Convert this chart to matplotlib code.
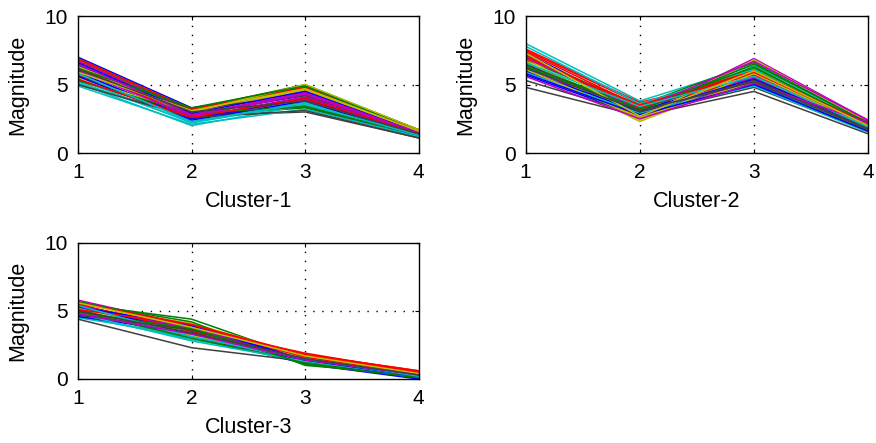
import matplotlib
matplotlib.use('Agg')
import matplotlib.pyplot as plt

plt.rcParams['font.family'] = ['Liberation Sans', 'DejaVu Sans']

features = [1, 2, 3, 4]
x_ticks = [1, 2, 3, 4]
y_ticks = [0, 5, 10]
cycle = ['#0000ff', '#008000', '#ff0000', '#00bfbf', '#bf00bf', '#bfbf00', '#404040']

cluster1 = [
    [6.0, 2.8, 4.2, 1.4], [5.0, 2.7, 3.3, 1.2], [6.8, 3.0, 4.6, 1.6], [5.1, 2.0, 3.5, 1.3],
    [6.3, 2.6, 4.0, 1.4], [6.6, 3.1, 4.9, 1.7], [5.3, 2.7, 3.0, 1.1], [7.0, 3.3, 4.4, 1.5],
    [6.5, 3.2, 5.0, 1.7], [5.7, 2.5, 3.9, 1.3], [5.4, 2.2, 3.6, 1.2], [5.8, 2.6, 4.1, 1.4],
    [6.1, 2.9, 4.7, 1.6], [5.6, 2.8, 3.4, 1.2], [5.9, 2.5, 4.0, 1.3], [6.9, 3.1, 4.8, 1.6],
    [6.2, 2.7, 4.3, 1.5], [5.2, 2.3, 3.7, 1.3], [6.7, 3.0, 4.5, 1.5], [5.5, 2.9, 4.6, 1.6],
    [6.4, 3.2, 4.2, 1.5], [5.6, 2.4, 3.8, 1.2], [5.3, 2.9, 3.4, 1.3], [6.9, 3.2, 4.8, 1.7],
    [4.9, 2.1, 3.2, 1.2], [6.0, 2.7, 4.3, 1.4], [6.3, 3.0, 5.0, 1.7], [5.0, 2.6, 3.1, 1.1],
    [6.6, 2.9, 4.5, 1.5], [6.2, 3.3, 4.9, 1.6], [5.4, 2.6, 4.0, 1.4], [5.8, 2.3, 3.6, 1.3],
    [6.5, 2.8, 4.4, 1.5], [5.9, 3.1, 4.7, 1.6], [6.1, 3.0, 3.8, 1.4],
]

cluster2 = [
    [6.0, 2.9, 5.2, 2.0], [6.8, 3.4, 6.2, 2.1], [7.5, 3.6, 5.8, 2.3], [8.0, 3.8, 6.4, 2.2],
    [6.3, 2.8, 6.9, 2.4], [6.5, 2.3, 5.5, 1.8], [4.8, 2.7, 4.5, 1.4], [7.3, 3.1, 5.6, 2.1],
    [7.0, 3.5, 6.6, 2.2], [7.4, 3.4, 5.4, 2.0], [6.6, 3.0, 5.0, 1.7], [6.1, 2.6, 5.3, 1.9],
    [6.9, 2.5, 6.8, 2.3], [7.1, 3.2, 5.9, 2.0], [5.7, 2.7, 5.1, 1.8], [6.4, 3.3, 6.0, 2.1],
    [7.6, 3.7, 5.7, 2.2], [7.8, 3.6, 6.1, 2.0], [6.2, 2.9, 5.5, 2.3], [6.7, 2.4, 5.8, 1.9],
    [5.3, 2.8, 4.8, 1.6], [6.0, 3.0, 5.4, 1.9], [7.2, 3.1, 6.5, 2.2], [6.9, 3.5, 6.0, 2.1],
    [5.9, 2.9, 4.9, 1.5], [7.0, 3.2, 6.7, 2.4], [6.1, 2.6, 5.2, 1.7], [6.5, 3.0, 5.3, 1.8],
    [5.8, 2.8, 5.0, 1.6], [6.3, 3.2, 6.3, 2.0], [7.1, 3.3, 5.9, 2.1], [6.6, 3.4, 5.6, 1.9],
    [5.6, 2.5, 5.1, 2.2], [7.3, 2.7, 6.0, 2.0], [6.2, 3.1, 5.2, 1.7],
]

cluster3 = [
    [5.0, 3.6, 1.3, 0.1], [5.5, 4.4, 1.5, 0.5], [5.2, 3.8, 1.8, 0.6], [4.6, 3.0, 1.2, 0.3],
    [5.8, 3.9, 1.6, 0.4], [5.3, 4.1, 1.7, 0.5], [4.4, 2.3, 1.3, 0.2], [4.8, 3.3, 1.1, 0.0],
    [5.6, 4.2, 1.0, 0.3], [5.4, 3.7, 1.9, 0.5], [4.7, 2.9, 1.4, 0.3], [5.1, 3.5, 1.5, 0.4],
    [5.0, 3.4, 1.6, 0.2], [4.9, 3.1, 1.2, 0.2], [5.2, 3.6, 1.2, 0.1], [5.7, 3.9, 1.1, 0.2],
    [5.6, 4.0, 1.8, 0.6], [4.5, 3.2, 1.3, 0.3], [5.3, 3.8, 1.7, 0.4], [4.9, 3.5, 1.6, 0.3],
    [5.1, 3.3, 1.4, 0.2], [4.6, 3.4, 1.3, 0.1], [5.0, 3.0, 1.2, 0.3], [5.5, 3.5, 1.7, 0.5],
    [4.8, 2.8, 1.3, 0.2], [5.4, 3.7, 1.5, 0.4], [5.2, 3.2, 1.6, 0.3], [4.7, 3.6, 1.4, 0.3],
    [5.3, 3.9, 1.4, 0.2], [4.9, 3.7, 1.1, 0.1], [5.1, 4.0, 1.6, 0.4], [5.4, 3.1, 1.5, 0.2],
    [4.8, 3.3, 1.4, 0.3], [5.6, 3.8, 1.7, 0.4], [5.0, 3.4, 1.5, 0.3],
]

clusters = [cluster1, cluster2, cluster3]
names = ['Cluster-1', 'Cluster-2', 'Cluster-3']
# [left, bottom, width, height] in figure fractions
boxes = [
    [0.089, 0.6546, 0.389, 0.309],
    [0.600, 0.6546, 0.391, 0.309],
    [0.089, 0.1445, 0.389, 0.307],
]

fig = plt.figure(figsize=(8.76, 4.43), dpi=100)

for data, name, box in zip(clusters, names, boxes):
    ax = fig.add_axes(box)
    for i, row in enumerate(data):
        ax.plot(features, row, color=cycle[i % len(cycle)], lw=1.1)
    ax.set_xlim(1, 4)
    ax.set_ylim(0, 10)
    ax.set_xticks(x_ticks)
    ax.set_yticks(y_ticks)
    for xv in x_ticks[1:-1]:
        ax.axvline(xv, color='black', lw=1.0, ls=(0, (1, 5.5)), zorder=0)
    ax.axhline(5, color='black', lw=1.0, ls=(0, (1, 5.5)), zorder=0)
    ax.tick_params(direction='in', length=3, top=True, right=True, labelsize=15)
    ax.tick_params(axis='x', pad=7)
    ax.tick_params(axis='y', pad=7)
    ax.set_xlabel(name, fontsize=15.5, labelpad=7)
    ax.set_ylabel('Magnitude', fontsize=15.5, labelpad=12)
    for sp in ax.spines.values():
        sp.set_linewidth(1.0)

fig.savefig('out.png', dpi=100)
